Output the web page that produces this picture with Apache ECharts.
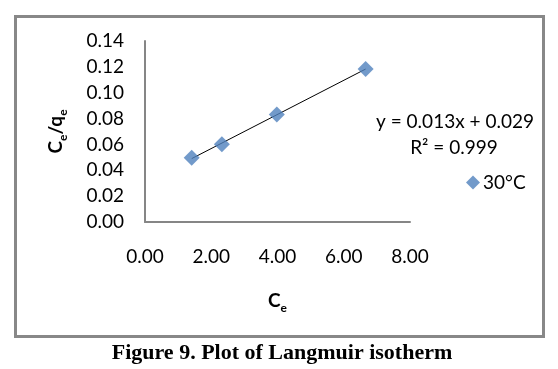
<!DOCTYPE html>
<html><head><meta charset="utf-8">
<script src="https://cdn.jsdelivr.net/npm/echarts@6/dist/echarts.min.js"></script>
<style>html,body{margin:0;padding:0;background:#fff}#c{width:558px;height:369px}</style>
</head><body><div id="c"></div>
<script>
// Data
const ceValues = [1.41, 2.32, 3.98, 6.66];
const ceqeValues = [0.0496, 0.0602, 0.0832, 0.1183];
const seriesName = '30°C';
const equationText = 'y = 0.013x + 0.029';
const r2Text = 'R² = 0.999';
const captionText = 'Figure 9. Plot of Langmuir isotherm';
const xTicks = [0, 2, 4, 6, 8];
const yTicks = [0, 0.02, 0.04, 0.06, 0.08, 0.10, 0.12, 0.14];

// Linear least-squares trendline over the data range
const n = ceValues.length;
const mx = ceValues.reduce((a, b) => a + b, 0) / n;
const my = ceqeValues.reduce((a, b) => a + b, 0) / n;
let sxy = 0, sxx = 0;
for (let i = 0; i < n; i++) { sxy += (ceValues[i] - mx) * (ceqeValues[i] - my); sxx += (ceValues[i] - mx) ** 2; }
const slope = sxy / sxx, icpt = my - slope * mx;
const xMin = Math.min(...ceValues), xMax = Math.max(...ceValues);
const trend = [[xMin, icpt + slope * xMin], [xMax, icpt + slope * xMax]];

const FONT = 'Lato';
const chart = echarts.init(document.getElementById('c'), null, { renderer: 'canvas' });
chart.setOption({
  backgroundColor: '#fff',
  animation: false,
  textStyle: { fontFamily: FONT },
  grid: { left: 145, top: 41, right: 148, bottom: 147, containLabel: false },
  xAxis: {
    type: 'value', min: xTicks[0], max: xTicks[xTicks.length - 1], interval: 2,
    axisLine: { show: true, onZero: false, lineStyle: { color: '#868686', width: 2 } },
    axisTick: { show: false }, splitLine: { show: false },
    axisLabel: { margin: 25, color: '#000', fontSize: 19, fontFamily: FONT, formatter: v => v.toFixed(2) },
    name: '{b|C}{s|e}', nameLocation: 'middle', nameGap: 66,
    nameTextStyle: { rich: {
      b: { fontSize: 19, fontWeight: 'bold', color: '#000', fontFamily: FONT, lineHeight: 22, verticalAlign: 'bottom' },
      s: { fontSize: 12, fontWeight: 'bold', color: '#000', fontFamily: FONT, lineHeight: 12, verticalAlign: 'bottom', padding: [0, 0, -4, 0] }
    } }
  },
  yAxis: {
    type: 'value', min: 0, max: yTicks[yTicks.length - 1], interval: 0.02,
    axisLine: { show: true, lineStyle: { color: '#868686', width: 2 } },
    axisTick: { show: false }, splitLine: { show: false },
    axisLabel: { margin: 21, color: '#000', fontSize: 19, fontFamily: FONT, formatter: v => v.toFixed(2) },
    name: '{b|C}{s|e}{b|/q}{s|e}', nameLocation: 'middle', nameRotate: 90, nameGap: 80,
    nameTextStyle: { rich: {
      b: { fontSize: 19, fontWeight: 'bold', color: '#000', fontFamily: FONT, lineHeight: 22, verticalAlign: 'bottom' },
      s: { fontSize: 12, fontWeight: 'bold', color: '#000', fontFamily: FONT, lineHeight: 12, verticalAlign: 'bottom', padding: [0, 0, -4, 0] }
    } }
  },
  legend: {
    left: 461, top: 168, itemWidth: 14, itemHeight: 14, itemGap: 4,
    textStyle: { fontSize: 19, color: '#000', fontFamily: FONT, padding: [0, 0, 0, -2] },
    data: [{ name: seriesName, icon: 'diamond' }]
  },
  series: [
    { name: 'trend', type: 'line', data: trend, symbol: 'none', lineStyle: { color: '#000', width: 1 }, z: 2, silent: true },
    { name: seriesName, type: 'scatter', data: ceValues.map((x, i) => [x, ceqeValues[i]]), symbol: 'diamond', symbolSize: 16,
      itemStyle: { color: '#4F81BD' }, z: 3 }
  ],
  graphic: [
    { type: 'rect', shape: { x: 15.5, y: 16.5, width: 528, height: 320 }, style: { fill: 'none', stroke: '#888', lineWidth: 3 }, z: -1 },
    { type: 'text', x: 455, y: 122, style: { text: equationText, fill: '#000', font: '19px ' + FONT, textAlign: 'center', textVerticalAlign: 'middle' } },
    { type: 'text', x: 454, y: 148, style: { text: r2Text, fill: '#000', font: '19px ' + FONT, textAlign: 'center', textVerticalAlign: 'middle' } },
    { type: 'text', x: 282, y: 353, style: { text: captionText, fill: '#000', font: 'bold 22px "Liberation Serif"', textAlign: 'center', textVerticalAlign: 'middle' } }
  ]
});
</script></body></html>
